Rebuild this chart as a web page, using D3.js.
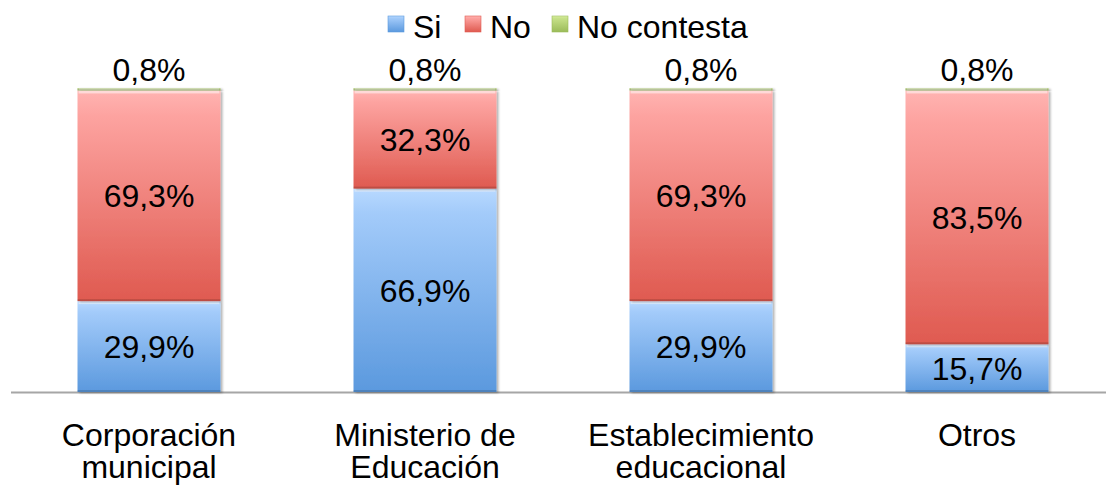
<!DOCTYPE html>
<html lang="es">
<head>
<meta charset="utf-8">
<title>Respuestas por institución</title>
<script src="https://d3js.org/d3.v7.min.js"></script>
<style>
body { margin: 0; background: #fff; }
svg text { font-family: Arial, "Liberation Sans", sans-serif; fill: #000; }
</style>
</head>
<body>
<svg width="1106" height="487"></svg>
<script>
// data
var categories = [["Corporación", "municipal"], ["Ministerio de", "Educación"], ["Establecimiento", "educacional"], ["Otros"]];
var keys = ["Si", "No", "No contesta"];
var si = [29.9, 66.9, 29.9, 15.7];
var no = [69.3, 32.3, 69.3, 83.5];
var nc = [0.8, 0.8, 0.8, 0.8];

var svg = d3.select("svg");

var rows = categories.map(function(c, i) {
  return { cat: c.join(" "), lines: c, "Si": si[i], "No": no[i], "No contesta": nc[i] };
});

var x = d3.scaleBand()
    .domain(rows.map(function(d) { return d.cat; }))
    .range([11, 1115])
    .paddingInner(0.482)
    .paddingOuter(0.241);

var y = d3.scaleLinear().domain([0, 100]).range([392, 88]);

var stack = d3.stack().keys(keys)(rows);

// gradients
var defs = svg.append("defs");
var grads = {
  "Si": ["#b8d9ff", "#a3cbfa", "#5b99de"],
  "No": ["#ffb4b2", "#fda3a0", "#df5a50"],
  "No contesta": ["#dcf0a8", "#c8e28a", "#9bbb59"]
};
keys.forEach(function(k, i) {
  var g = defs.append("linearGradient").attr("id", "g" + i)
      .attr("x1", 0).attr("y1", 0).attr("x2", 0).attr("y2", 1);
  g.append("stop").attr("offset", "0%").attr("stop-color", grads[k][0]);
  g.append("stop").attr("offset", "12%").attr("stop-color", grads[k][1]);
  g.append("stop").attr("offset", "100%").attr("stop-color", grads[k][2]);
});
var sh = defs.append("filter").attr("id", "shadow").attr("x", "-5%").attr("y", "-5%").attr("width", "115%").attr("height", "115%");
sh.append("feDropShadow").attr("dx", 2).attr("dy", 1).attr("stdDeviation", 1.2).attr("flood-color", "#000").attr("flood-opacity", 0.3);

// axis line
svg.append("line")
    .attr("x1", 11).attr("x2", 1106)
    .attr("y1", 392.5).attr("y2", 392.5)
    .attr("stroke", "#a6a6a6").attr("stroke-width", 2);

var layer = svg.append("g").selectAll("g")
  .data(stack).enter().append("g")
    .attr("fill", function(d, i) { return "url(#g" + i + ")"; });

var seg = layer.selectAll("g").data(function(d) { return d; }).enter().append("g");

seg.append("rect")
    .attr("x", function(d) { return x(d.data.cat); })
    .attr("y", function(d) { return y(d[1]); })
    .attr("width", x.bandwidth())
    .attr("height", function(d) { return y(d[0]) - y(d[1]); })
    .attr("filter", "url(#shadow)");

// bevel: light top edge and darker bottom edge
seg.append("rect")
    .attr("x", function(d) { return x(d.data.cat) + 1; })
    .attr("y", function(d) { return y(d[1]); })
    .attr("width", x.bandwidth() - 2)
    .attr("height", function(d) { return Math.min(3, y(d[0]) - y(d[1])); })
    .attr("fill", "#fff").attr("opacity", 0.5);
seg.append("rect")
    .attr("x", function(d) { return x(d.data.cat); })
    .attr("y", function(d) { return y(d[0]) - Math.min(2, y(d[0]) - y(d[1])); })
    .attr("width", x.bandwidth())
    .attr("height", function(d) { return Math.min(2, y(d[0]) - y(d[1])); })
    .attr("fill", "#000").attr("opacity", 0.15);

// labels
layer.each(function(s, i) {
  d3.select(this).selectAll("text").data(s).enter().append("text")
      .attr("x", function(d) { return x(d.data.cat) + x.bandwidth() / 2; })
      .attr("y", function(d) {
        if (s.key === "No contesta") return y(d[1]) - 7;
        return (y(d[0]) + y(d[1])) / 2 + 11.5;
      })
      .attr("text-anchor", "middle")
      .attr("font-size", 32)
      .style("fill", "#000")
      .text(function(d) { return d3.format(".1f")(d[1] - d[0]).replace(".", ",") + "%"; });
});

// category labels
var cl = svg.append("g").selectAll("text").data(rows).enter().append("text")
    .attr("text-anchor", "middle")
    .attr("font-size", 32)
    .attr("x", function(d) { return x(d.cat) + x.bandwidth() / 2; })
    .attr("y", 446);
cl.selectAll("tspan").data(function(d) { return d.lines; }).enter().append("tspan")
    .attr("x", function() { return d3.select(this.parentNode).attr("x"); })
    .attr("dy", function(d, i) { return i ? 32 : 0; })
    .text(function(d) { return d; });

// legend
var legX = [388, 465, 552];
var leg = svg.append("g").selectAll("g").data(keys).enter().append("g")
    .attr("transform", function(d, i) { return "translate(" + legX[i] + ",16)"; });
leg.append("rect").attr("width", 16).attr("height", 16)
    .attr("fill", function(d, i) { return "url(#g" + i + ")"; })
    .attr("stroke", function(d) { return grads[d][2]; }).attr("stroke-width", 0.6);
leg.append("text").attr("x", 25).attr("y", 22).attr("font-size", 32)
    .text(function(d) { return d; });
</script>
</body>
</html>
